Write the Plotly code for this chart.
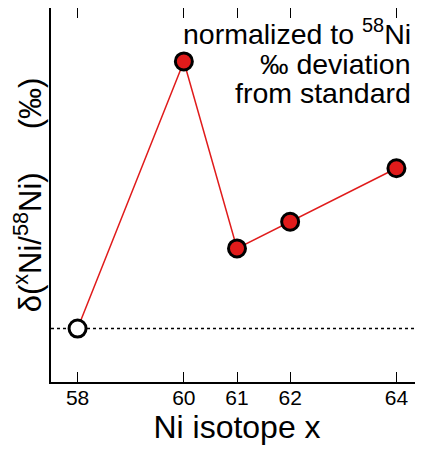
import plotly.graph_objects as go

isotopes = [58, 60, 61, 62, 64]
delta = [0.0, 1.0, 0.30, 0.40, 0.60]
fill_colors = ["white", "#e01b1b", "#e01b1b", "#e01b1b", "#e01b1b"]
tick_vals = [58, 60, 61, 62, 64]
tick_text = ["58", "60", "61", "62", "64"]
note_lines = ["normalized to <sup>58</sup>Ni", "‰ deviation", "from standard"]

FONT = "Liberation Sans, Arial, Helvetica, sans-serif"

fig = go.Figure()
fig.add_trace(go.Scatter(
    x=isotopes, y=delta, mode="lines",
    line=dict(color="#e01b1b", width=1.5), hoverinfo="skip", showlegend=False))
fig.add_trace(go.Scatter(
    x=isotopes, y=delta, mode="markers",
    marker=dict(size=17, color=fill_colors, line=dict(color="black", width=3)),
    showlegend=False))

fig.add_shape(type="line", xref="paper", yref="y", x0=0, x1=1, y0=0, y1=0,
              line=dict(color="black", width=1.5, dash="dot"), layer="below")

for line_text, ypos in zip(note_lines, [0.9366, 0.850, 0.773]):
    fig.add_annotation(
        xref="paper", yref="paper", x=0.972, y=ypos, xanchor="right", yanchor="middle",
        align="right", showarrow=False, text=line_text,
        font=dict(family=FONT, size=28.5, color="black"))

# page body has an 8px margin; compensate so the plot lands where the reference has it
fig.update_layout(
    width=415, height=441,
    margin=dict(l=43, r=0, t=0, b=67),
    plot_bgcolor="white", paper_bgcolor="white",
    font=dict(family=FONT, color="black"),
    xaxis=dict(
        range=[57.5, 64.5], tickvals=tick_vals, ticktext=tick_text,
        ticks="inside", ticklen=10, tickwidth=1.2, tickcolor="black",
        showline=True, linecolor="black", linewidth=1.5, mirror="ticks",
        showgrid=False, zeroline=False, ticklabelstandoff=-4,
        tickfont=dict(family=FONT, size=21),
        title=dict(text="Ni isotope x", font=dict(family=FONT, size=32), standoff=8),
        automargin=False),
    yaxis=dict(
        range=[-0.2, 1.2], showticklabels=False, ticks="",
        showline=True, linecolor="black", linewidth=1.5,
        showgrid=False, zeroline=False,
        title=dict(text="δ(<sup>x</sup>Ni/<sup>58</sup>Ni)\u00a0\u00a0\u00a0\u00a0\u00a0(‰)",
                   font=dict(family=FONT, size=31), standoff=8),
        automargin=False),
)

fig.write_html("out.html")
